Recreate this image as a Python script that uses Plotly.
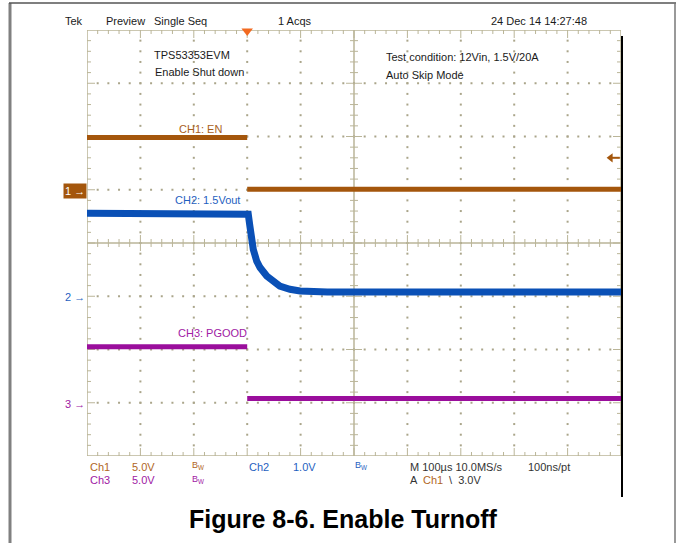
import numpy as np
import plotly.graph_objects as go

# --- scope capture values (time in us from trigger, volts per channel) ---
ch_names = ["CH1: EN", "CH2: 1.5Vout", "CH3: PGOOD"]
ch_colors = ["#a4560c", "#0a50b6", "#9a0e9c"]
volts_per_div = [5.0, 1.0, 5.0]
ground_div = [1, -1, -3]

ch1_t = [-300, 0, None, 0, 700]
ch1_v = [4.9, 4.9, None, 0.05, 0.05]

ch2_t = [-300, 0, 2, 5, 8.4, 11.4, 17.8, 24, 36.5, 49, 61, 80, 99, 150, 700]
ch2_v = [1.56, 1.56, 1.54, 1.32, 1.07, 0.88, 0.66, 0.54, 0.38, 0.28, 0.19, 0.13, 0.10, 0.08, 0.08]

ch3_t = [-300, 0, None, 0, 700]
ch3_v = [5.25, 5.25, None, 0.4, 0.4]

trig_level = 3.0  # V on CH1

# --- screen geometry (pixels) ---
X0, X1, Y0, Y1 = 87, 621, 30, 456
T_MIN, T_MAX = -300, 700
GRID = "#bab598"
FONT = "Liberation Sans, Arial, sans-serif"


def fx(p):
    return (p - X0) / (X1 - X0)


def fy(p):
    return (Y1 - p) / (Y1 - Y0)


def dy(p):
    return 4 - (p - Y0) / (Y1 - Y0) * 8


fig = go.Figure()

# dotted graticule
dots_x, dots_y = [], []
for xm in range(-200, 700, 100):
    if xm == 200:
        continue
    for ym in np.arange(-3.8, 3.9, 0.2):
        dots_x.append(xm)
        dots_y.append(ym)
for ym in [-3, -2, -1, 1, 2, 3]:
    for xm in range(-280, 700, 20):
        dots_x.append(xm)
        dots_y.append(ym)
fig.add_trace(go.Scatter(x=dots_x, y=dots_y, mode="markers",
                         marker=dict(symbol="square", size=2, color="#aaa58a"),
                         hoverinfo="skip"))

# tick marks on border and centre cross
lx = 4 * (T_MAX - T_MIN) / (X1 - X0)
ly = 4 * 8 / (Y1 - Y0)
sx, sy = [], []
for t in range(-280, 700, 20):
    k = 2 if (t - T_MIN) % 100 == 0 else 1
    sx += [t, t, None, t, t, None, t, t, None]
    sy += [4, 4 - k * ly, None, -4, -4 + k * ly, None, -k * ly, k * ly, None]
for y in np.arange(-3.8, 3.9, 0.2):
    k = 2 if abs(y - round(y)) < 1e-6 else 1
    sx += [T_MIN, T_MIN + k * lx, None, T_MAX, T_MAX - k * lx, None, 200 - k * lx, 200 + k * lx, None]
    sy += [y, y, None, y, y, None, y, y, None]
fig.add_trace(go.Scatter(x=sx, y=sy, mode="lines", line=dict(color=GRID, width=1),
                         hoverinfo="skip"))

# channel traces
chans = [(ch1_t, ch1_v, "y2", 5), (ch2_t, ch2_v, "y3", 7), (ch3_t, ch3_v, "y4", 5)]
for i, (t, v, ax, w) in enumerate(chans):
    fig.add_trace(go.Scatter(x=t, y=v, yaxis=ax, mode="lines", name=ch_names[i],
                             line=dict(color=ch_colors[i], width=w), connectgaps=False,
                             hoverinfo="skip"))

# trigger position marker
fig.add_trace(go.Scatter(x=[0], y=[dy(31)], mode="markers", cliponaxis=False,
                         marker=dict(symbol="triangle-down", size=10, color="#f26a21"),
                         hoverinfo="skip"))

# trigger level arrow (shaft + head)
fig.add_trace(go.Scatter(x=[T_MAX - 3 * lx, T_MAX - 0.3 * lx], y=[trig_level, trig_level],
                         yaxis="y2", mode="lines", line=dict(color=ch_colors[0], width=2),
                         hoverinfo="skip"))
fig.add_trace(go.Scatter(x=[T_MAX - 2.6 * lx], y=[trig_level], yaxis="y2", mode="markers",
                         marker=dict(symbol="triangle-left", size=8, color=ch_colors[0]),
                         hoverinfo="skip"))

shapes = [
    dict(type="rect", xref="x", yref="y", x0=T_MIN, x1=T_MAX, y0=-4, y1=4,
         line=dict(color=GRID, width=1.5), layer="below"),
    dict(type="line", xref="x", yref="y", x0=T_MIN, x1=T_MAX, y0=0, y1=0,
         line=dict(color=GRID, width=1.5), layer="below"),
    dict(type="line", xref="x", yref="y", x0=200, x1=200, y0=-4, y1=4,
         line=dict(color=GRID, width=1.5), layer="below"),
    # page frame
    dict(type="line", xref="paper", yref="paper", x0=fx(10), x1=fx(10), y0=fy(3), y1=fy(545),
         line=dict(color="#808080", width=3)),
    dict(type="line", xref="paper", yref="paper", x0=fx(9), x1=fx(676), y0=fy(3), y1=fy(3),
         line=dict(color="#555555", width=1.5)),
    dict(type="line", xref="paper", yref="paper", x0=fx(675), x1=fx(675), y0=fy(3), y1=fy(545),
         line=dict(color="#777777", width=1.5)),
    dict(type="line", xref="paper", yref="paper", x0=fx(622), x1=fx(622), y0=fy(36), y1=fy(497),
         line=dict(color="#000000", width=2)),
]

ann = []


def text(s, x, y, color="#1a1a1a", size=11, anchor="left", **kw):
    ann.append(dict(text=s, x=fx(x), y=fy(y), xref="paper", yref="paper", showarrow=False,
                    xanchor=anchor, yanchor="middle",
                    font=dict(family=FONT, size=size, color=color), **kw))


# header
text("Tek", 63, 21)
text("Preview", 104, 21)
text("Single Seq", 152, 21)
text("1 Acqs", 276, 21)
text("24 Dec 14 14:27:48", 489, 21)

# notes on screen
text("TPS53353EVM", 152, 55)
text("Enable Shut down", 153, 72)
text("Test condition: 12Vin, 1.5V/20A", 384, 57)
text("Auto Skip Mode", 384, 75)

# channel labels
text(ch_names[0], 200, 129, color="#a8601c", anchor="center")
text(ch_names[1], 207, 200, color="#1f5fbf", anchor="center")
text(ch_names[2], 212, 333, color="#a020a4", anchor="center")

# ground markers
text("1 →", 87, 190.5, color="white", anchor="right", bgcolor=ch_colors[0], borderpad=1)
text("2 →", 87, 297, color="#1f5fbf", anchor="right")
text("3 →", 87, 404, color="#a020a4", anchor="right")

# bottom readout
bw = "B<sub>W</sub>"
text("Ch1", 88, 467, color="#b0661e")
text("5.0V", 130, 467, color="#b0661e")
text(bw, 190, 466, color="#b0661e", size=9)
text("Ch2", 247, 467, color="#1f5fbf")
text("1.0V", 291, 467, color="#1f5fbf")
text(bw, 353, 466, color="#1f5fbf", size=9)
text("M 100µs 10.0MS/s", 408, 467, color="#333333")
text("100ns/pt", 526, 467, color="#333333")
text("Ch3", 88, 480, color="#a020a4")
text("5.0V", 130, 480, color="#a020a4")
text(bw, 190, 479, color="#a020a4", size=9)
text("A", 408, 480, color="#333333")
text("Ch1", 421, 480, color="#b0661e")
text("\\  3.0V", 447, 480, color="#333333")

# caption
text("<b>Figure 8-6. Enable Turnoff</b>", 343, 519, color="#000000", size=25, anchor="center")

hidden = dict(visible=False, showgrid=False, zeroline=False, fixedrange=True)
layout_axes = {"yaxis": dict(range=[-4, 4], **hidden)}
for i, ax in enumerate(["yaxis2", "yaxis3", "yaxis4"]):
    s, g = volts_per_div[i], ground_div[i]
    layout_axes[ax] = dict(range=[(-4 - g) * s, (4 - g) * s], overlaying="y", **hidden)

fig.update_layout(
    width=676, height=543, autosize=False,
    margin=dict(l=X0, r=676 - X1, t=Y0, b=543 - Y1, pad=0),
    paper_bgcolor="white", plot_bgcolor="white",
    showlegend=False,
    xaxis=dict(range=[T_MIN, T_MAX], **hidden),
    shapes=shapes,
    annotations=ann,
    **layout_axes,
)

# page body has an 8px default margin; drop it so the figure sits at 0,0
fig.write_html("out.html", config={"displayModeBar": False},
               post_script="document.body.style.margin='0px';")
